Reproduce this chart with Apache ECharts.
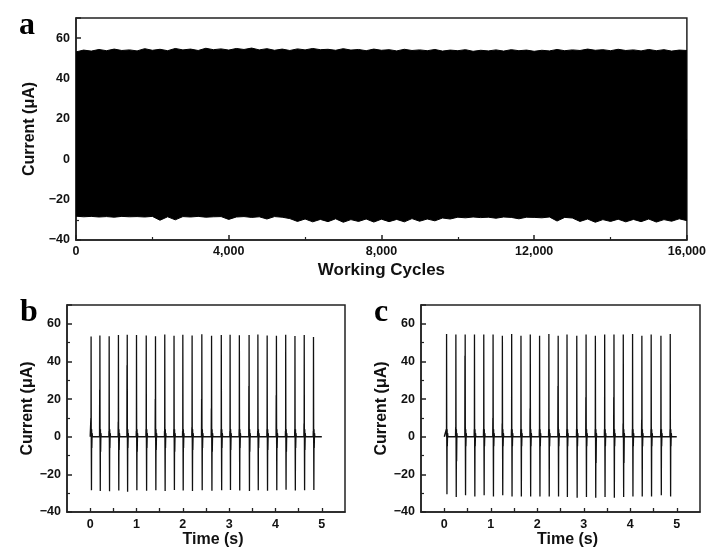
<!DOCTYPE html>
<html>
<head>
<meta charset="utf-8">
<script src="https://cdn.jsdelivr.net/npm/echarts@6/dist/echarts.min.js"></script>
<style>
  html, body { margin: 0; padding: 0; background: #ffffff; }
  #chart { width: 709px; height: 551px; }
</style>
</head>
<body>
<div id="chart"></div>
<script>
// panel a: envelope of the current, one reading every 200 cycles
const cycleStep = 200;
const topA = [53.2,54.1,53.6,54.4,53.8,54.6,53.9,54.2,53.7,54.8,
  54.0,54.5,53.8,54.9,54.2,54.6,53.9,55.0,54.3,54.7,
  54.1,54.9,54.4,55.1,54.2,54.8,54.0,54.6,53.9,54.7,
  54.2,54.9,54.3,54.5,54.0,54.8,54.1,54.4,53.8,54.6,
  54.0,54.3,53.7,54.5,53.9,54.2,53.8,54.4,53.6,54.1,
  53.8,54.3,53.5,54.0,53.7,54.2,53.6,54.3,53.8,54.1,
  53.5,54.0,53.7,54.4,53.8,54.2,53.9,54.6,54.0,54.3,
  53.8,54.5,53.9,54.2,53.7,54.4,53.8,54.3,53.6,54.1,
  53.9];
const bottomA = [-28.2,-28.5,-28.3,-28.6,-28.4,-28.7,-28.3,-28.5,-28.4,-28.6,
  -28.3,-30.2,-28.5,-30.0,-28.4,-28.6,-28.3,-28.7,-28.5,-28.4,
  -29.8,-28.6,-28.4,-28.8,-28.5,-29.6,-28.4,-28.7,-29.4,-30.8,
  -29.6,-31.0,-29.8,-30.9,-29.5,-31.2,-29.9,-30.8,-29.6,-31.1,
  -29.7,-30.9,-29.8,-31.0,-29.4,-30.7,-29.6,-30.5,-29.1,-29.6,
  -28.7,-29.0,-28.6,-28.9,-28.7,-29.2,-28.6,-28.8,-29.5,-28.7,
  -28.8,-29.0,-28.6,-30.6,-28.8,-29.1,-30.8,-29.6,-31.2,-29.9,
  -30.8,-29.7,-31.0,-29.8,-30.9,-29.6,-31.1,-29.9,-30.7,-29.5,
  -30.4];

// panel b pulses
const timesB = [0.02,0.21,0.41,0.61,0.80,1.00,1.21,1.41,1.61,1.81,2.00,2.20,2.41,
  2.62,2.83,3.02,3.22,3.43,3.62,3.82,4.02,4.22,4.42,4.62,4.82];
const peaksB = [53.2,53.8,53.4,54.0,54.2,54.0,53.8,53.4,54.3,53.6,54.2,53.8,54.4,
  53.7,54.0,54.2,53.9,54.1,54.3,53.8,53.6,54.2,53.5,54.1,53.0];
const troughsB = [-28.5,-28.8,-29.0,-28.6,-29.2,-28.4,-28.7,-28.5,-28.9,-28.3,-28.6,-28.8,-28.4,
  -28.7,-28.5,-28.3,-28.6,-28.8,-28.4,-28.7,-28.5,-28.2,-28.6,-28.4,-28.3];
const echoB = [10,25,3,8,38,3,4,20,3,4,3,5,20,15,4,3,4,27,3,4,22,3,4,7,3];
const dipsB = [-6,-8,-6,-7,-6,-8,-6,-7,-6,-8,-6,-7,-6,-8,-6,-7,-6,-8,-6,-7,-6,-8,-6,-7,-6];

// panel c pulses
const timesC = [0.05,0.25,0.45,0.65,0.85,1.05,1.25,1.45,1.65,1.85,2.05,2.25,2.45,
  2.64,2.85,3.05,3.25,3.45,3.65,3.85,4.05,4.25,4.45,4.66,4.86];
const peaksC = [54.6,54.3,54.3,54.3,54.3,54.3,53.7,54.6,53.7,54.3,53.7,54.6,53.7,
  54.3,53.7,54.3,53.7,54.3,54.3,54.3,54.6,53.7,54.3,53.7,54.6];
const troughsC = [-30.6,-32.0,-31.1,-31.7,-31.1,-31.7,-31.1,-31.7,-31.7,-31.7,-31.7,-31.7,-31.7,
  -32.0,-32.4,-32.0,-32.4,-32.0,-32.4,-32.0,-31.7,-31.7,-31.7,-31.1,-31.7];
const echoC = [4,5,43,4,4,10,7,4,4,15,4,4,27,4,4,21,4,4,21,7,4,9,4,4,4];
const dipsC = [-5,-13,-5,-5,-5,-5,-5,-5,-5,-5,-5,-5,-5,-5,-5,-5,-14,-5,-5,-14,-5,-5,-5,-5,-5];

function envelope(vals) {
  return vals.map(function (v, i) { return [i * cycleStep, v]; });
}

function pulseTrain(times, peaks, troughs, echo, dips) {
  var out = [[0, 0]];
  for (var i = 0; i < times.length; i++) {
    var t = times[i];
    out.push([t - 0.008, 0], [t - 0.005, echo[i]], [t - 0.002, 0], [t, peaks[i]],
      [t + 0.004, -3], [t + 0.008, troughs[i]], [t + 0.012, 4], [t + 0.016, dips[i]],
      [t + 0.022, 2], [t + 0.03, 0]);
  }
  out.push([5, 0]);
  return out;
}

var font = '"Liberation Sans", Arial, sans-serif';
var serif = '"Liberation Serif", "DejaVu Serif", serif';
var minus = function (v) { return v < 0 ? '\u2212' + Math.abs(v) : String(v); };

function yAxisFor(gridIndex, gap, size) {
  return {
    gridIndex: gridIndex, type: 'value', min: -40, max: 70, interval: 20,
    name: 'Current (\u03bcA)', nameLocation: 'middle', nameGap: gap,
    nameTextStyle: { fontFamily: font, fontWeight: 'bold', fontSize: size, color: '#111' },
    axisLine: { show: true, onZero: false, lineStyle: { color: '#222', width: 1.5 } },
    axisTick: { inside: true, length: 5, lineStyle: { color: '#222', width: 1.5 } },
    minorTick: { show: true, splitNumber: 2, length: 3, lineStyle: { color: '#222', width: 1.2 } },
    splitLine: { show: false },
    axisLabel: {
      fontFamily: font, fontWeight: 'bold', fontSize: 12.5, color: '#111', margin: 6,
      showMaxLabel: false, formatter: minus
    }
  };
}

function timeAxis(gridIndex) {
  return {
    gridIndex: gridIndex, type: 'value', min: -0.5, max: 5.5, interval: 0.5,
    name: 'Time (s)', nameLocation: 'middle', nameGap: 20,
    nameTextStyle: { fontFamily: font, fontWeight: 'bold', fontSize: 16, color: '#111', padding: [0, 0, 0, 14] },
    axisLine: { show: true, onZero: false, lineStyle: { color: '#222', width: 1.5 } },
    axisTick: { inside: true, length: 4, lineStyle: { color: '#222', width: 1.3 } },
    splitLine: { show: false },
    axisLabel: {
      fontFamily: font, fontWeight: 'bold', fontSize: 12.5, color: '#111', margin: 6,
      showMinLabel: false, showMaxLabel: false,
      formatter: function (v) { return Number.isInteger(v) ? String(v) : ''; }
    }
  };
}

var myChart = echarts.init(document.getElementById('chart'));
myChart.setOption({
  backgroundColor: '#ffffff',
  animation: false,
  title: [
    { text: 'a', left: 14, top: 5, textStyle: { fontFamily: serif, fontWeight: 'bold', fontSize: 32, color: '#000' } },
    { text: 'b', left: 15, top: 292, textStyle: { fontFamily: serif, fontWeight: 'bold', fontSize: 32, color: '#000' } },
    { text: 'c', left: 369, top: 292, textStyle: { fontFamily: serif, fontWeight: 'bold', fontSize: 32, color: '#000' } }
  ],
  grid: [
    { left: 76, top: 18, right: 19, bottom: 311, show: true, borderColor: '#222', borderWidth: 1.5 },
    { left: 67, top: 305, right: 364, bottom: 39, show: true, borderColor: '#222', borderWidth: 1.5 },
    { left: 421, top: 305, right: 9, bottom: 39, show: true, borderColor: '#222', borderWidth: 1.5 }
  ],
  xAxis: [
    {
      gridIndex: 0, type: 'value', min: 0, max: 16000, interval: 4000,
      name: 'Working Cycles', nameLocation: 'middle', nameGap: 22,
      nameTextStyle: { fontFamily: font, fontWeight: 'bold', fontSize: 17, color: '#111' },
      axisLine: { show: true, onZero: false, lineStyle: { color: '#222', width: 1.5 } },
      axisTick: { inside: true, length: 5, lineStyle: { color: '#222', width: 1.5 } },
      minorTick: { show: true, splitNumber: 2, length: 3, lineStyle: { color: '#222', width: 1.2 } },
      splitLine: { show: false },
      axisLabel: {
        fontFamily: font, fontWeight: 'bold', fontSize: 12.5, color: '#111', margin: 5,
        formatter: function (v) { return v.toLocaleString('en-US'); }
      }
    },
    timeAxis(1),
    timeAxis(2)
  ],
  yAxis: [
    yAxisFor(0, 38, 16),
    yAxisFor(1, 30, 16),
    yAxisFor(2, 30, 16)
  ],
  series: [
    {
      type: 'line', xAxisIndex: 0, yAxisIndex: 0, symbol: 'none',
      data: envelope(topA),
      lineStyle: { color: '#000', width: 1 },
      areaStyle: { color: '#000', opacity: 1, origin: -10 }
    },
    {
      type: 'line', xAxisIndex: 0, yAxisIndex: 0, symbol: 'none',
      data: envelope(bottomA),
      lineStyle: { color: '#000', width: 1 },
      areaStyle: { color: '#000', opacity: 1, origin: 10 }
    },
    {
      type: 'line', xAxisIndex: 1, yAxisIndex: 1, symbol: 'none',
      data: pulseTrain(timesB, peaksB, troughsB, echoB, dipsB),
      lineStyle: { color: '#111', width: 1.3 }
    },
    {
      type: 'line', xAxisIndex: 2, yAxisIndex: 2, symbol: 'none',
      data: pulseTrain(timesC, peaksC, troughsC, echoC, dipsC),
      lineStyle: { color: '#111', width: 1.3 }
    }
  ]
});
window.addEventListener('resize', function () {
  myChart.resize();
});
</script>
</body>
</html>
